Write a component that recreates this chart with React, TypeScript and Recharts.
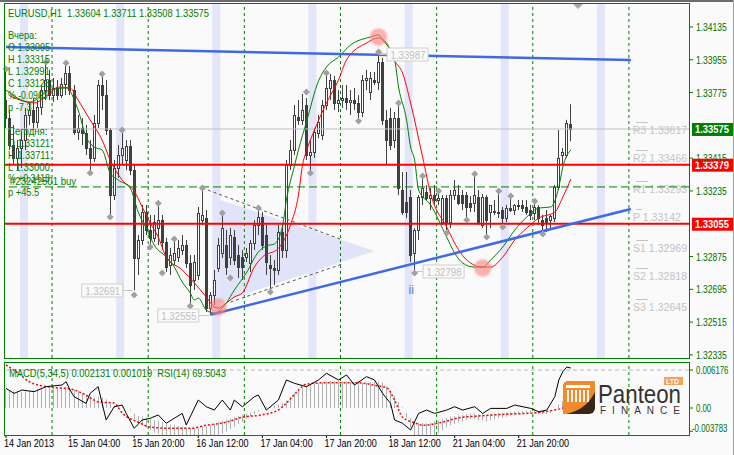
import React from 'react';
import {
  ComposedChart, Bar, Line, Area, XAxis, YAxis,
  ReferenceLine, ReferenceArea, ReferenceDot,
} from 'recharts';

const FONT = '"Liberation Sans", Arial, sans-serif';
const GREEN = '#008000';
const CANDLE = '#404040';
const BG = '#fafafa';

// EURUSD H1 bars, 14 Jan 12:00 .. 22 Jan 09:00
const OPEN = [
  1.33734, 1.33636, 1.33487, 1.33416, 1.33471, 1.33514, 1.33652, 1.33679, 1.33613, 1.33696,
  1.33789, 1.33844, 1.33761, 1.33800, 1.33761, 1.33822, 1.33882, 1.33789, 1.33558, 1.33581,
  1.33553, 1.33471, 1.33416, 1.33608, 1.33816, 1.33761, 1.33569, 1.33212, 1.33361, 1.33432,
  1.33405, 1.33482, 1.33350, 1.32867, 1.32966, 1.33119, 1.33020, 1.32977, 1.33031, 1.33075,
  1.32955, 1.32828, 1.32856, 1.32872, 1.32911, 1.32938, 1.32839, 1.32746, 1.32774, 1.33075,
  1.33086, 1.32592, 1.32664, 1.32812, 1.32894, 1.32938, 1.32872, 1.32982, 1.32883, 1.32872,
  1.32872, 1.32839, 1.32949, 1.33048, 1.33092, 1.32993, 1.32828, 1.32812, 1.32801, 1.33009,
  1.32911, 1.33377, 1.33460, 1.33641, 1.33624, 1.33707, 1.33432, 1.33449, 1.33553, 1.33542,
  1.33707, 1.33800, 1.33844, 1.33718, 1.33734, 1.33745, 1.33723, 1.33734, 1.33718, 1.33668,
  1.33844, 1.33778, 1.33844, 1.33833, 1.33943, 1.33624, 1.33635, 1.33514, 1.33635, 1.33240,
  1.33174, 1.33201, 1.32894, 1.33020, 1.33201, 1.33229, 1.33196, 1.33212, 1.33185, 1.33064,
  1.33196, 1.33064, 1.33212, 1.33212, 1.33212, 1.33212, 1.33168, 1.33168, 1.33201, 1.33048,
  1.33201, 1.33119, 1.33119, 1.33119, 1.33130, 1.33086, 1.33141, 1.33130, 1.33158, 1.33158,
  1.33147, 1.33130, 1.33114, 1.33147, 1.33075, 1.33086, 1.33075, 1.33086, 1.33256, 1.33432,
  1.33432, 1.33604,
];
const HIGH = [
  1.33899, 1.33679, 1.33597, 1.33514, 1.33558, 1.33690, 1.33723, 1.33745, 1.33734, 1.33816,
  1.33932, 1.33899, 1.33855, 1.33844, 1.33855, 1.33926, 1.33921, 1.33816, 1.33652, 1.33635,
  1.33597, 1.33514, 1.33652, 1.33844, 1.33866, 1.33844, 1.33581, 1.33405, 1.33487, 1.33558,
  1.33514, 1.33514, 1.33377, 1.32993, 1.33158, 1.33158, 1.33103, 1.33103, 1.33158, 1.33103,
  1.32977, 1.32922, 1.32960, 1.32966, 1.32993, 1.32966, 1.32883, 1.32883, 1.33147, 1.33240,
  1.33130, 1.32680, 1.32801, 1.32977, 1.33108, 1.33020, 1.33031, 1.33020, 1.32938, 1.32911,
  1.32922, 1.32966, 1.33075, 1.33141, 1.33119, 1.33048, 1.32883, 1.32856, 1.33048, 1.33048,
  1.33405, 1.33514, 1.33707, 1.33734, 1.33767, 1.33745, 1.33514, 1.33581, 1.33652, 1.33734,
  1.33871, 1.33877, 1.33866, 1.33789, 1.33816, 1.33816, 1.33789, 1.33800, 1.33761, 1.33871,
  1.33899, 1.33888, 1.33888, 1.33987, 1.33965, 1.33679, 1.33690, 1.33668, 1.33707, 1.33339,
  1.33339, 1.33240, 1.33031, 1.33212, 1.33317, 1.33267, 1.33251, 1.33267, 1.33234, 1.33212,
  1.33212, 1.33240, 1.33295, 1.33267, 1.33240, 1.33229, 1.33207, 1.33317, 1.33240, 1.33218,
  1.33212, 1.33158, 1.33185, 1.33234, 1.33147, 1.33158, 1.33201, 1.33163, 1.33185, 1.33185,
  1.33185, 1.33158, 1.33179, 1.33158, 1.33103, 1.33130, 1.33103, 1.33267, 1.33569, 1.33471,
  1.33625, 1.33711,
];
const LOW = [
  1.33581, 1.33460, 1.33377, 1.33350, 1.33361, 1.33460, 1.33597, 1.33569, 1.33581, 1.33652,
  1.33734, 1.33734, 1.33723, 1.33734, 1.33745, 1.33761, 1.33761, 1.33542, 1.33514, 1.33487,
  1.33432, 1.33322, 1.33394, 1.33581, 1.33679, 1.33542, 1.33086, 1.33185, 1.33306, 1.33377,
  1.33350, 1.33322, 1.32691, 1.32774, 1.32938, 1.32993, 1.32922, 1.32955, 1.32938, 1.32911,
  1.32790, 1.32774, 1.32828, 1.32845, 1.32883, 1.32812, 1.32614, 1.32691, 1.32746, 1.33048,
  1.32570, 1.32555, 1.32609, 1.32790, 1.32867, 1.32774, 1.32828, 1.32828, 1.32757, 1.32746,
  1.32845, 1.32790, 1.32911, 1.32993, 1.32911, 1.32774, 1.32691, 1.32719, 1.32774, 1.32867,
  1.32867, 1.33350, 1.33432, 1.33597, 1.33597, 1.33405, 1.33328, 1.33416, 1.33525, 1.33514,
  1.33679, 1.33734, 1.33679, 1.33668, 1.33690, 1.33679, 1.33652, 1.33679, 1.33613, 1.33641,
  1.33789, 1.33734, 1.33816, 1.33789, 1.33597, 1.33377, 1.33460, 1.33471, 1.33212, 1.33103,
  1.33086, 1.32845, 1.32798, 1.32966, 1.33158, 1.33185, 1.33130, 1.33158, 1.33158, 1.33048,
  1.33004, 1.33031, 1.33185, 1.33158, 1.33130, 1.33075, 1.33119, 1.33119, 1.33048, 1.33031,
  1.32988, 1.33031, 1.33103, 1.33086, 1.33031, 1.33064, 1.33119, 1.33103, 1.33130, 1.33119,
  1.33103, 1.33075, 1.33075, 1.33048, 1.32998, 1.33009, 1.33031, 1.33064, 1.33240, 1.33377,
  1.33416, 1.33508,
];
const CLOSE = [
  1.33636, 1.33487, 1.33416, 1.33471, 1.33514, 1.33652, 1.33679, 1.33613, 1.33696, 1.33789,
  1.33844, 1.33761, 1.33800, 1.33761, 1.33822, 1.33882, 1.33789, 1.33558, 1.33581, 1.33553,
  1.33471, 1.33416, 1.33608, 1.33816, 1.33761, 1.33569, 1.33212, 1.33361, 1.33432, 1.33471,
  1.33482, 1.33350, 1.32867, 1.32966, 1.33119, 1.33020, 1.32977, 1.33064, 1.33075, 1.32955,
  1.32817, 1.32883, 1.32894, 1.32922, 1.32938, 1.32839, 1.32719, 1.32845, 1.33114, 1.33103,
  1.32592, 1.32664, 1.32746, 1.32938, 1.33031, 1.32817, 1.32993, 1.32856, 1.32817, 1.32817,
  1.32894, 1.32949, 1.33048, 1.33092, 1.32938, 1.32845, 1.32812, 1.32801, 1.33009, 1.32911,
  1.33377, 1.33460, 1.33652, 1.33624, 1.33679, 1.33432, 1.33449, 1.33558, 1.33613, 1.33707,
  1.33800, 1.33844, 1.33718, 1.33734, 1.33745, 1.33723, 1.33734, 1.33718, 1.33668, 1.33844,
  1.33855, 1.33855, 1.33833, 1.33943, 1.33624, 1.33514, 1.33487, 1.33635, 1.33251, 1.33119,
  1.33119, 1.32883, 1.33020, 1.33201, 1.33251, 1.33196, 1.33212, 1.33185, 1.33196, 1.33196,
  1.33064, 1.33212, 1.33240, 1.33168, 1.33168, 1.33147, 1.33147, 1.33212, 1.33059, 1.33201,
  1.33075, 1.33158, 1.33125, 1.33114, 1.33086, 1.33141, 1.33130, 1.33158, 1.33152, 1.33141,
  1.33119, 1.33103, 1.33147, 1.33086, 1.33048, 1.33064, 1.33097, 1.33256, 1.33416, 1.33449,
  1.33608, 1.33575,
];

// chart shift leaves empty bar slots on the right
const SLOTS = 171;

const X_TICKS = [0, 16, 32, 48, 64, 80, 96, 112, 128];
const X_LABELS = [
  '14 Jan 2013', '15 Jan 04:00', '15 Jan 20:00', '16 Jan 12:00', '17 Jan 04:00',
  '17 Jan 20:00', '18 Jan 12:00', '21 Jan 04:00', '21 Jan 20:00',
];
const PRICE_TICKS = [1.32335, 1.32515, 1.32695, 1.32875, 1.33235, 1.33415, 1.33775, 1.33955, 1.34135];
const MACD_TICKS = [0.006176, 0, -0.003783];

const DAY_STARTS = [12, 36, 60, 84, 108, 132, 156];
const SESSIONS = [4, 28, 52, 76, 100, 124, 148];

// smoothed averages (green fast, red slow), sampled points
const MA_FAST = [
  [0, 1.33789], [6, 1.33723], [11, 1.33789], [15, 1.33800], [18, 1.33679], [20, 1.33531],
  [22, 1.33476], [24, 1.33460], [26, 1.33333], [28, 1.33295], [31, 1.33251], [33, 1.33119],
  [35, 1.33031], [37, 1.32938], [40, 1.32872], [42, 1.32817], [44, 1.32735], [46, 1.32675],
  [47, 1.32636], [48, 1.32647], [50, 1.32581], [52, 1.32565], [55, 1.32620], [57, 1.32691],
  [60, 1.32785], [63, 1.32900], [65, 1.32933], [67, 1.32944], [69, 1.33037], [70, 1.33185],
  [72, 1.33372], [73, 1.33460], [75, 1.33613], [78, 1.33838], [80, 1.33915], [83, 1.33970],
  [86, 1.34036], [91, 1.34080], [93, 1.34091], [94, 1.34064], [97, 1.33954], [98, 1.33805],
  [100, 1.33624], [101, 1.33476], [102, 1.33405], [103, 1.33240], [106, 1.33158], [110, 1.32982],
  [112, 1.32894], [114, 1.32839], [117, 1.32817], [119, 1.32817], [121, 1.32856], [124, 1.32927],
  [127, 1.33020], [130, 1.33092], [133, 1.33141], [136, 1.33147], [138, 1.33256], [139, 1.33366],
  [141, 1.33460],
];
const MA_SLOW = [
  [1, 1.33756], [7, 1.33718], [11, 1.33772], [13, 1.33805], [16, 1.33800], [18, 1.33734],
  [21, 1.33624], [24, 1.33514], [26, 1.33405], [29, 1.33295], [32, 1.33234], [34, 1.33147],
  [36, 1.33059], [38, 1.32982], [40, 1.32872], [44, 1.32801], [47, 1.32730], [50, 1.32653],
  [52, 1.32598], [53, 1.32592], [55, 1.32620], [57, 1.32653], [59, 1.32675], [62, 1.32817],
  [64, 1.32872], [68, 1.32920], [71, 1.33048], [73, 1.33212], [74, 1.33375], [75, 1.33454],
  [77, 1.33569], [80, 1.33718], [83, 1.33844], [85, 1.33954], [90, 1.34047], [93, 1.34075],
  [95, 1.34047], [97, 1.33950], [99, 1.33882], [101, 1.33718], [104, 1.33421], [106, 1.33220],
  [110, 1.33037], [113, 1.32911], [115, 1.32856], [119, 1.32817], [121, 1.32817], [124, 1.32872],
  [127, 1.32966], [130, 1.33031], [133, 1.33086], [137, 1.33119], [139, 1.33201], [141, 1.33300],
];
const FRACTALS = [
  [0, 1.33904], [10, 1.33943], [15, 1.33937], [21, 1.33333], [24, 1.33877], [26, 1.33092],
  [29, 1.33569], [32, 1.32664], [36, 1.32927], [38, 1.33168], [39, 1.32784], [42, 1.32971],
  [46, 1.32603], [49, 1.33251], [54, 1.33114], [56, 1.32757], [63, 1.33141], [66, 1.32680],
  [75, 1.33778], [76, 1.33333], [80, 1.33882], [88, 1.33619], [93, 1.33998], [98, 1.33718],
  [102, 1.32784], [104, 1.33317], [108, 1.33234], [110, 1.33004], [115, 1.33075], [117, 1.33328],
  [120, 1.32982], [123, 1.33234], [124, 1.33037], [126, 1.33207], [132, 1.33179], [134, 1.32998],
];
const BLUE_TOP = [[0, 1.34025], [156, 1.33954]];
const BLUE_TREND = [[51, 1.32555], [156, 1.33136]];
const TRI_FILL = [[53, 1.32620, 1.33190], [92, 1.32905, 1.32905]];
const TRI_UPPER = [[49, 1.33251], [84, 1.32966]];
const TRI_LOWER = [[56, 1.32625], [84, 1.32834]];

const BID = CLOSE[CLOSE.length - 1];
const RED_LEVELS = [1.33379, 1.33055];
const ORDER_PRICE = 1.33257;
const PIVOTS: [string, number][] = [
  ['R3', 1.33617], ['R2', 1.33466], ['R1', 1.33293], ['P', 1.33142],
  ['S1', 1.32969], ['S2', 1.32818], ['S3', 1.32645],
];
const EXTREMES = [[32, 1.32691, -1], [51, 1.32555, -1], [93, 1.33987, 1], [102, 1.32798, 1]];
const PEAKS = [[53, 1.32598], [93, 1.34080], [119, 1.32812]];

const MACD_MAIN = [
  0.0030, 0.0029, 0.0027, 0.0026, 0.0026, 0.0027, 0.0028, 0.0029, 0.0030, 0.0031,
  0.0033, 0.0033, 0.0033, 0.0033, 0.0034, 0.0034, 0.0032, 0.0030, 0.0027, 0.0024,
  0.0021, 0.0018, 0.0017, 0.0018, 0.0017, 0.0014, 0.0008, 0.0004, 0.0002, 0.0001,
  0.0000, -0.0002, -0.0009, -0.0013, -0.0014, -0.0016, -0.0018, -0.0020, -0.0021, -0.0023,
  -0.0026, -0.0027, -0.0028, -0.0029, -0.0030, -0.0031, -0.0032, -0.0033, -0.0032, -0.0030,
  -0.0030, -0.0028, -0.0026, -0.0023, -0.0021, -0.0019, -0.0017, -0.0015, -0.0013, -0.0011,
  -0.0009, -0.0007, -0.0005, -0.0003, 0.0000, 0.0002, 0.0003, 0.0004, 0.0005, 0.0007,
  0.0012, 0.0018, 0.0024, 0.0029, 0.0033, 0.0036, 0.0038, 0.0040, 0.0041, 0.0042,
  0.0043, 0.0044, 0.0044, 0.0044, 0.0043, 0.0043, 0.0042, 0.0042, 0.0041, 0.0041,
  0.0041, 0.0042, 0.0042, 0.0043, 0.0042, 0.0035, 0.0028, 0.0020, 0.0010, 0.0001,
  -0.0008, -0.0016, -0.0022, -0.0024, -0.0025, -0.0025, -0.0024, -0.0022, -0.0020, -0.0018,
  -0.0016, -0.0014, -0.0013, -0.0012, -0.0011, -0.0010, -0.0009, -0.0009, -0.0010, -0.0010,
  -0.0011, -0.0010, -0.0009, -0.0008, -0.0008, -0.0007, -0.0006, -0.0006, -0.0005, -0.0005,
  -0.0004, -0.0004, -0.0004, -0.0005, -0.0005, -0.0005, -0.0004, 0.0000, 0.0006, 0.0011,
  0.0017, 0.0021,
];
const MACD_SIGNAL = [
  [0, 0.0070], [3, 0.0057], [6, 0.0042], [11, 0.0034], [16, 0.0031], [20, 0.0021], [23, 0.0010],
  [27, 0.0008], [29, -0.0008], [33, -0.0023], [36, -0.0031], [41, -0.0033], [46, -0.0033],
  [50, -0.0028], [55, -0.0023], [59, -0.0015], [64, -0.0011], [68, -0.0003], [70, 0.0008],
  [73, 0.0029], [75, 0.0039], [80, 0.0041], [88, 0.0041], [92, 0.0037], [95, 0.0033],
  [97, 0.0013], [99, -0.0015], [102, -0.0024], [104, -0.0028], [109, -0.0023], [113, -0.0016],
  [118, -0.0013], [125, -0.0010], [132, -0.0008], [137, -0.0003], [140, 0.0002], [141, 0.0010],
];
const RSI = [
  [0, 54.9], [2, 51.3], [4, 53.7], [7, 52.5], [10, 56.1], [14, 57.3], [15, 59.7], [16, 53.7],
  [17, 48.9], [20, 44.1], [21, 51.3], [23, 56.1], [24, 44.1], [25, 32.2], [27, 41.7], [29, 42.9],
  [30, 36.9], [32, 26.2], [34, 32.2], [36, 33.4], [38, 35.8], [40, 29.8], [42, 33.4], [44, 36.9],
  [45, 28.6], [48, 46.5], [50, 41.7], [52, 39.3], [54, 46.5], [56, 39.3], [57, 46.5], [59, 41.7],
  [62, 48.9], [63, 50.1], [65, 39.3], [68, 46.5], [70, 60.9], [72, 58.5], [75, 56.1], [78, 60.9],
  [80, 65.7], [83, 60.9], [85, 64.5], [87, 57.3], [90, 63.3], [92, 60.9], [94, 51.3], [96, 44.1],
  [97, 32.2], [99, 29.8], [101, 25.0], [103, 36.9], [105, 39.3], [107, 36.9], [110, 39.3],
  [112, 41.7], [114, 39.3], [117, 41.7], [119, 36.9], [121, 40.5], [125, 40.5], [127, 42.9],
  [131, 40.5], [133, 38.1], [135, 39.3], [137, 48.9], [138, 60.9], [139, 66.9], [140, 70.2],
  [141, 69.5],
];

const rows: Record<string, any>[] = Array.from({ length: SLOTS }, (_, i) => ({ i }));
OPEN.forEach((o, i) => {
  Object.assign(rows[i], {
    o, h: HIGH[i], l: LOW[i], c: CLOSE[i], range: [LOW[i], HIGH[i]], macd: MACD_MAIN[i],
  });
});
const put = (pts: number[][], key: string) => pts.forEach(([i, v]) => { rows[i][key] = v; });
put(MA_FAST, 'fast');
put(MA_SLOW, 'slow');
put(FRACTALS, 'frac');
put(BLUE_TOP, 'blueTop');
put(BLUE_TREND, 'blueTrend');
put(TRI_UPPER, 'triUp');
put(TRI_LOWER, 'triLo');
put(MACD_SIGNAL, 'signal');
put(RSI, 'rsi');
TRI_FILL.forEach(([i, lo, hi]) => { rows[i].tri = [lo, hi]; });

// the terminal font is narrower than Liberation Sans, so squeeze text to its width
const fitWidth = (s: string, d: number) =>
  [...s].reduce((a, ch) => a + (ch === ' ' ? 2.5 : '.,:'.includes(ch) ? 2.3 : ch === '-' ? 3 : d), 0);

const Candle = (props: any) => {
  const { x, y, width, height, payload } = props;
  if (payload == null || payload.o == null || !height) return <g />;
  const cx = Math.floor(x + width / 2) + 0.5;
  const k = height / (payload.h - payload.l);
  const top = Math.round(y + (payload.h - Math.max(payload.o, payload.c)) * k) + 0.5;
  const bot = Math.round(y + (payload.h - Math.min(payload.o, payload.c)) * k) + 0.5;
  const up = payload.c >= payload.o;
  return (
    <g>
      <line x1={cx} x2={cx} y1={y} y2={y + height} stroke={CANDLE} />
      <rect x={cx - 1} y={top} width={2} height={Math.max(bot - top, 0.5)}
        fill={up ? '#ffffff' : CANDLE} stroke={CANDLE} />
    </g>
  );
};

const HistBar = (props: any) => {
  const { x, y, width, height } = props;
  if (height == null || Number.isNaN(y)) return <g />;
  return <rect x={Math.round(x + width / 2 - 0.5)} y={y} width={1} height={Math.abs(height)} fill="#b0b0b0" />;
};

const FractalDot = (props: any) => {
  const { cx, cy, value, index } = props;
  if (value == null || cy == null || Number.isNaN(cy)) return <g key={`f${index}`} />;
  const r = 3.5;
  return (
    <path key={`f${index}`} d={`M${cx} ${cy - r}L${cx + r} ${cy}L${cx} ${cy + r}L${cx - r} ${cy}Z`}
      fill="#a0a0a0" />
  );
};

const PriceTick = (p: any) => {
  const txt = Number(p.payload.value).toFixed(5);
  return (
    <text x={p.x} y={p.y} dy={4} fill="#007000" fontSize={10.5} fontFamily={FONT}
      textLength={fitWidth(txt, 4.75)} lengthAdjust="spacingAndGlyphs">{txt}</text>
  );
};

const MacdTick = (p: any) => {
  const v = Number(p.payload.value);
  const txt = v === 0 ? '0.00' : String(v);
  return (
    <text x={v < 0 ? p.x - 4 : p.x} y={p.y} dy={v < 0 ? 1 : 4} fill="#007000" fontSize={10.5}
      fontFamily={FONT} textLength={fitWidth(txt, 4.3)} lengthAdjust="spacingAndGlyphs">{txt}</text>
  );
};

const TimeTick = (p: any) => {
  const txt = X_LABELS[X_TICKS.indexOf(p.payload.value)] || '';
  return (
    <text x={p.x - 2} y={p.y} dy={7} fill="#000" fontSize={10.5} fontFamily={FONT}
      textLength={fitWidth(txt, 5)} lengthAdjust="spacingAndGlyphs">{txt}</text>
  );
};

const PriceBox = ({ viewBox, value, bg }: any) => {
  if (!viewBox) return null;
  const x = viewBox.x + viewBox.width + 3;
  const y = viewBox.y;
  return (
    <g>
      <rect x={x} y={y - 6} width={41} height={13} fill={bg} />
      <text x={x + 3} y={y + 4} fill="#fff" fontSize={10.5} fontWeight="bold" fontFamily={FONT}
        textLength={34} lengthAdjust="spacingAndGlyphs">{value.toFixed(5)}</text>
    </g>
  );
};

const PivotLabel = ({ viewBox, name, value }: any) => {
  if (!viewBox) return null;
  const x = viewBox.x + viewBox.width - 56;
  const y = Math.round(viewBox.y) + 0.5;
  const txt = `${name} ${value.toFixed(5)}`;
  return (
    <g>
      <line x1={x + 3} x2={x + 3 + name.length * 6} y1={y + 1} y2={y + 1} stroke="#c4c4c4" />
      <text x={x} y={y + 12} fill="#c4c4c4" fontSize={10.5} fontFamily={FONT}
        textLength={54 - (name.length === 1 ? 6 : 0)} lengthAdjust="spacingAndGlyphs">{txt}</text>
    </g>
  );
};

const ExtremeTag = ({ cx, cy, text, side }: any) => {
  const w = 41;
  const bx = side < 0 ? cx - 12 - w : cx + 8;
  const ly = Math.round(cy) + 0.5;
  return (
    <g>
      <line x1={side < 0 ? bx + w : cx + 1} x2={side < 0 ? cx - 1 : bx} y1={ly} y2={ly} stroke="#c8c8c8" />
      <rect x={bx + 0.5} y={ly - 6.5} width={w} height={13} fill={BG} stroke="#cfcfcf" />
      <text x={bx + 4} y={ly + 4} fill="#c0c0c0" fontSize={10.5} fontFamily={FONT}
        textLength={35} lengthAdjust="spacingAndGlyphs">{text}</text>
    </g>
  );
};

const Glow = ({ cx, cy }: any) => (
  <g>
    <circle cx={cx} cy={cy} r={10} fill="#ff7070" fillOpacity={0.18} />
    <circle cx={cx} cy={cy} r={8} fill="#ff8080" fillOpacity={0.5} />
  </g>
);

const INFO: [string, number, number][] = [
  ['Вчера:', 8, 39], ['O 1.33095', 8, 51], ['H 1.33315', 8, 63], ['L 1.32991', 8, 75],
  ['C 1.33128', 8, 87], ['% -0.0963', 8, 99], ['p -7.3', 8, 111],
  ['Сегодня:', 8, 135], ['O 1.33121', 8, 147], ['H 1.33711', 8, 159], ['L 1.33000', 8, 171],
  ['% +0.3418', 8, 182], ['#23242501 buy', 10, 185], ['p +45.5', 8, 196],
];

export default function App() {
  return (
    <div style={{ position: 'absolute', left: 0, top: 0, width: 734, height: 455, background: BG, overflow: 'hidden' }}>
      <div style={{ position: 'absolute', left: 0, top: 0 }}>
        <ComposedChart width={734} height={360} data={rows} margin={{ top: 4, right: 0, bottom: 2, left: 4 }}>
          <XAxis dataKey="i" type="category" hide />
          <YAxis orientation="right" width={45} domain={[1.32318, 1.34261]} allowDataOverflow
            ticks={PRICE_TICKS} interval={0} axisLine={false} tickLine={{ stroke: GREEN }}
            tickSize={4} tickMargin={3} tick={<PriceTick />} />
          {SESSIONS.map((s) => (
            <ReferenceArea key={`s${s}`} x1={s} x2={s + 1} fill="#e3e5f8" fillOpacity={1} stroke="none" />
          ))}
          {DAY_STARTS.map((d) => (
            <ReferenceLine key={`d${d}`} x={d} position="start" stroke={GREEN} strokeDasharray="3 3" />
          ))}
          <Area dataKey="tri" type="linear" stroke="none" fill="#e1e4f8" fillOpacity={1}
            connectNulls isAnimationActive={false} />
          <ReferenceLine y={BID} stroke="#c0c0c0"
            label={(p: any) => <PriceBox viewBox={p.viewBox} value={BID} bg="#008000" />} />
          {PIVOTS.map(([name, v]) => (
            <ReferenceLine key={name} y={v} stroke="none"
              label={(p: any) => <PivotLabel viewBox={p.viewBox} name={name} value={v} />} />
          ))}
          <ReferenceLine y={ORDER_PRICE} stroke={GREEN} strokeDasharray="8 4" />
          {RED_LEVELS.map((v) => (
            <ReferenceLine key={`r${v}`} y={v} stroke="#ff0000" strokeWidth={2}
              label={(p: any) => <PriceBox viewBox={p.viewBox} value={v} bg="#ff0000" />} />
          ))}
          <Bar dataKey="range" shape={<Candle />} isAnimationActive={false} />
          <Line dataKey="triUp" type="linear" stroke="#555" strokeDasharray="3 3" dot={false}
            connectNulls isAnimationActive={false} />
          <Line dataKey="triLo" type="linear" stroke="#555" strokeDasharray="3 3" dot={false}
            connectNulls isAnimationActive={false} />
          <Line dataKey="slow" type="monotone" stroke="#ff0000" strokeWidth={1} dot={false}
            connectNulls isAnimationActive={false} />
          <Line dataKey="fast" type="monotone" stroke="#008000" strokeWidth={1} dot={false}
            connectNulls isAnimationActive={false} />
          <Line dataKey="blueTop" type="linear" stroke="#4169e1" strokeWidth={2.5} dot={false}
            connectNulls isAnimationActive={false} />
          <Line dataKey="blueTrend" type="linear" stroke="#4169e1" strokeWidth={2.5} dot={false}
            connectNulls isAnimationActive={false} />
          <Line dataKey="frac" stroke="none" dot={FractalDot} activeDot={false} isAnimationActive={false} />
          {PEAKS.map(([i, v]) => (
            <ReferenceDot key={`p${i}`} x={i} y={v} r={8} shape={(p: any) => <Glow {...p} />} />
          ))}
          {EXTREMES.map(([i, v, side]) => (
            <ReferenceDot key={`e${i}`} x={i} y={v} r={1}
              shape={(p: any) => <ExtremeTag {...p} text={v.toFixed(5)} side={side} />} />
          ))}
          <ReferenceDot x={101} y={1.32691} r={1}
            shape={(p: any) => (
              <text x={p.cx - 2} y={p.cy + 4} fill="#5577dd" fontSize={12} fontFamily={FONT}>ii</text>
            )} />
        </ComposedChart>
      </div>

      <div style={{ position: 'absolute', left: 0, top: 360 }}>
        <ComposedChart width={734} height={95} data={rows} margin={{ top: 3, right: 0, bottom: 0, left: 4 }}>
          <XAxis dataKey="i" type="category" height={20} ticks={X_TICKS} interval={0}
            axisLine={false} tickLine={{ stroke: '#000' }} tickSize={3} tick={<TimeTick />} />
          <YAxis yAxisId="macd" orientation="right" width={45} domain={[-0.00439, 0.00732]}
            allowDataOverflow ticks={MACD_TICKS} interval={0} axisLine={false}
            tickLine={{ stroke: GREEN }} tickSize={4} tickMargin={3} tick={<MacdTick />} />
          <YAxis yAxisId="rsi" hide domain={[21.4, 73.1]} allowDataOverflow />
          {DAY_STARTS.map((d) => (
            <ReferenceLine key={`md${d}`} yAxisId="macd" x={d} position="start" stroke={GREEN}
              strokeDasharray="3 3" />
          ))}
          <ReferenceLine yAxisId="macd" y={0.006176} stroke="#b8b8b8" strokeDasharray="4 3" />
          <Bar yAxisId="macd" dataKey="macd" shape={<HistBar />} isAnimationActive={false} />
          <Line yAxisId="macd" dataKey="signal" type="monotone" stroke="#ff0000" strokeWidth={1.5}
            strokeDasharray="2 2" dot={false} connectNulls isAnimationActive={false} />
          <Line yAxisId="rsi" dataKey="rsi" type="linear" stroke="#000" strokeWidth={1}
            dot={false} connectNulls isAnimationActive={false} />
        </ComposedChart>
      </div>

      <svg width={734} height={455} style={{ position: 'absolute', left: 0, top: 0, pointerEvents: 'none' }}>
        <rect x={0} y={0} width={734} height={2} fill="#6c6c6c" />
        <line x1={733.5} x2={733.5} y1={0} y2={455} stroke="#a0a0a0" />
        <rect x={4.5} y={3.5} width={685} height={355} fill="none" stroke={GREEN} />
        <rect x={4.5} y={362.5} width={685} height={73} fill="none" stroke={GREEN} />
        <path d="M573 4L583 4L578 9Z" fill="#a8a8a8" />
        <text x={8} y={17} fill={GREEN} fontSize={10.5} fontFamily={FONT} style={{ whiteSpace: 'pre' }}
          textLength={201} lengthAdjust="spacingAndGlyphs">
          EURUSD,H1  1.33604 1.33711 1.33508 1.33575
        </text>
        {INFO.map(([t, x, y]) => (
          <text key={t} x={x} y={y} fill={GREEN} fontSize={10.5} fontFamily={FONT}
            textLength={fitWidth(t, 5.3)} lengthAdjust="spacingAndGlyphs">{t}</text>
        ))}
        <text x={9} y={377} fill={GREEN} fontSize={10.5} fontFamily={FONT} style={{ whiteSpace: 'pre' }}
          textLength={217} lengthAdjust="spacingAndGlyphs">
          MACD(5,34,5) 0.002131 0.001019  RSI(14) 69.5043
        </text>
        <g>
          <rect x={563} y={381} width={32} height={33} rx={6} fill="#3a2616" />
          <path d="M563 387 Q563 381 569 381 L595 381 L595 392 Q586 410 566 414 L563 414 Z" fill="#f08a2c" />
          <rect x={566} y={385} width={24} height={3} fill="#fff" />
          {[567, 571, 575, 579, 583, 587].map((cx) => (
            <rect key={cx} x={cx} y={390} width={2} height={12} fill="#fff" fillOpacity={0.9} />
          ))}
          <rect x={664} y={377} width={19} height={8} fill="#f4a060" />
          <text x={666} y={384} fill="#fff" fontSize={7} fontWeight="bold" fontFamily={FONT}>LTD</text>
          <text x={598} y={403} fill="#333" fontSize={25} fontFamily={FONT} textLength={83}
            lengthAdjust="spacingAndGlyphs">Panteon</text>
          <text x={600} y={414} fill="#333" fontSize={10} fontFamily={FONT} textLength={80}
            lengthAdjust="spacing">FINANCE</text>
        </g>
      </svg>
    </div>
  );
}
